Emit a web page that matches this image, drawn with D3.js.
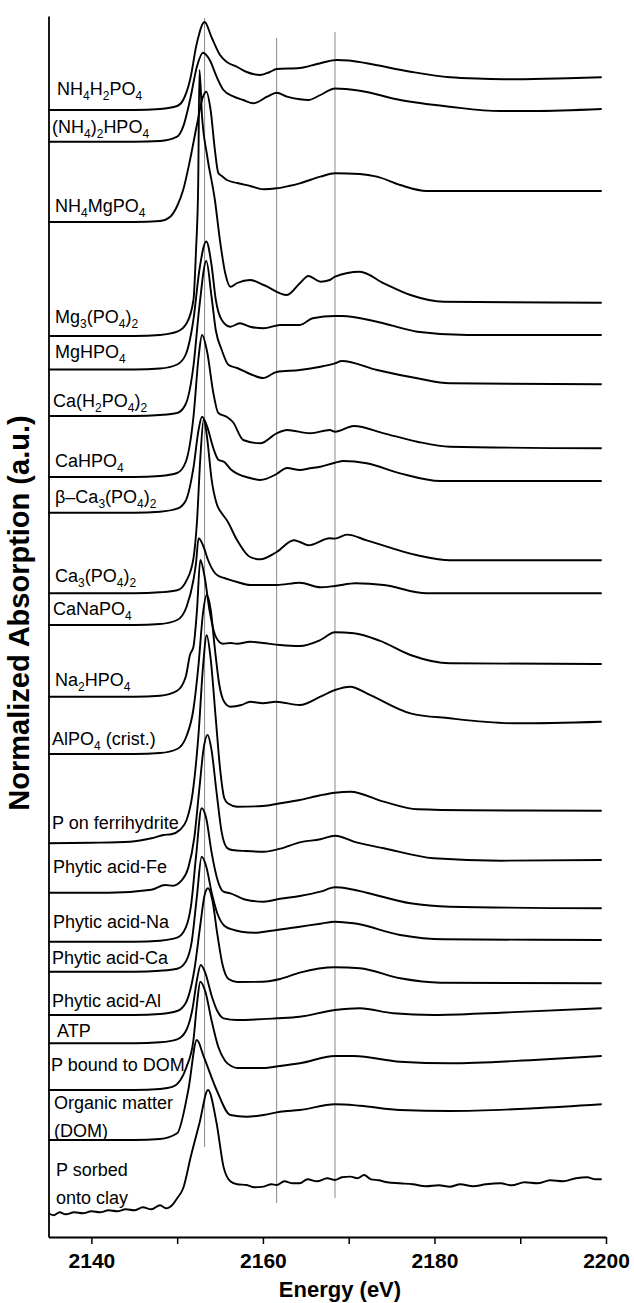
<!DOCTYPE html>
<html><head><meta charset="utf-8">
<script src="https://cdn.jsdelivr.net/npm/d3@7"></script>
<style>body{margin:0;background:#fff}</style>
</head><body><svg id="c" width="634" height="1303" xmlns="http://www.w3.org/2000/svg"></svg>
<script>
const energyDomain=[2135,2200];
const xTicks=[2140,2150,2160,2170,2180,2190,2200];
const xTickLabels=[2140,2160,2180,2200];
const refEnergies=[2153.2,2161.6,2168.4];
const refTop=[121.9,119.9,120.5];
const refBottom=[9.0,3.4,3.9];
const labels=["NH_4H_2PO_4","(NH_4)_2HPO_4","NH_4MgPO_4","Mg_3(PO_4)_2","MgHPO_4","Ca(H_2PO_4)_2","CaHPO_4","β–Ca_3(PO_4)_2","Ca_3(PO_4)_2","CaNaPO_4","Na_2HPO_4","AlPO_4 (crist.)","P on ferrihydrite","Phytic acid-Fe","Phytic acid-Na","Phytic acid-Ca","Phytic acid-Al","ATP","P bound to DOM","Organic matter|(DOM)","P sorbed|onto clay"];
const offsets=[112.7,109.53,101.5,90.1,86.75,82.1,76.0,72.43,64.37,61.2,54.03,48.3,39.37,34.43,29.53,26.53,22.2,19.37,14.7,9.7,2.37];
const s01=[[2135,0],[2145,0],[2148,0.1],[2150,0.4],[2150.7,1.0],[2151.5,3.0],[2152.3,6.7],[2153.2,8.8],[2154,7.3],[2155,5.5],[2155.8,4.8],[2157,4.3],[2158.1,3.8],[2159.7,3.5],[2160.8,3.8],[2161.6,4.1],[2164.3,4.2],[2166.3,4.6],[2168.6,5.0],[2170,4.95],[2172.1,4.67],[2177.2,3.83],[2181.8,3.27],[2185.7,3.13],[2189.6,3.07],[2195.5,3.17],[2199.5,3.27]];
const s02=[[2135,0],[2145,0],[2148,0.07],[2150,0.5],[2150.7,1.5],[2151.5,4.17],[2152.3,7.5],[2153,8.9],[2153.8,8.17],[2154.6,6.5],[2155.4,5.17],[2156.6,4.5],[2157.7,4.17],[2158.9,3.84],[2160.5,4.5],[2161.6,4.9],[2162.8,4.5],[2164.3,4.24],[2165.3,4.17],[2166.7,4.67],[2168.4,5.32],[2171.3,5.1],[2176,4.17],[2181.8,3.5],[2187.7,3.07],[2191.5,3.07],[2199.5,3.27]];
const s03=[[2135,0],[2145,0],[2148,0.1],[2149.2,0.53],[2150,1.6],[2150.7,3.2],[2151.5,6.2],[2152.3,9.7],[2153,12.5],[2153.4,13.03],[2153.9,11.2],[2154.4,7.2],[2154.8,4.9],[2155.2,4.6],[2155.8,4.2],[2157,3.9],[2158.5,3.6],[2160.1,3.27],[2161.6,3.37],[2163,3.6],[2164.3,3.87],[2166.7,4.53],[2168.4,4.87],[2171.3,4.8],[2173.3,4.53],[2176,3.7],[2179.1,3.1],[2199.5,3.1]];
const s04=[[2135,0],[2145,0],[2148,0.1],[2150,0.43],[2151.1,1.27],[2151.9,3.6],[2152.2,8.6],[2152.45,15],[2152.6,26.6],[2152.9,22],[2153.5,18],[2154.4,13.6],[2155.0,9.5],[2155.6,6.3],[2156.2,4.93],[2157,5.3],[2158.5,5.6],[2160.1,5.1],[2162.8,4.1],[2164.3,5.27],[2165.3,6.0],[2166.7,5.43],[2167.8,5.6],[2168.4,5.93],[2171.3,6.43],[2174.1,5.27],[2177.2,4.1],[2181.1,3.43],[2199.5,3.33]];
const s05=[[2135,0],[2145,0],[2148,0.1],[2150,0.5],[2151,1.5],[2151.9,5],[2152.6,10],[2153.4,12.8],[2154,10.5],[2154.5,7],[2155.2,4.95],[2156.2,4.28],[2157.3,4.62],[2158.5,4.28],[2160.1,4.12],[2162,4.45],[2164.3,4.45],[2165.8,5.12],[2168.4,5.35],[2169.2,5.35],[2173.3,4.78],[2178,3.78],[2183.8,3.45],[2199.5,3.45]];
const s06=[[2135,0],[2145,0],[2148,0.1],[2150,0.3],[2151,1.2],[2151.9,5],[2152.6,11],[2153.4,15.5],[2154,12],[2154.5,8.6],[2155.2,6.6],[2156,5.1],[2157,4.8],[2158.5,4.2],[2160,3.8],[2161.6,4.4],[2164.3,4.6],[2166.7,4.93],[2168.4,5.27],[2169.2,5.5],[2173.3,4.6],[2178,3.77],[2181.8,3.27],[2199.5,3.17]];
const s07=[[2135,0],[2145,0],[2148,0.1],[2150,0.4],[2151,1.5],[2151.9,6],[2152.5,12],[2152.9,14.2],[2153.5,12.5],[2154.2,8.5],[2154.8,6.4],[2155.8,6.0],[2156.5,5.5],[2157.7,3.7],[2159.7,3.37],[2161.6,4.37],[2162.8,4.7],[2165.5,4.37],[2167.8,4.7],[2168.4,4.53],[2170.6,5.1],[2174.1,4.37],[2178,3.53],[2181.8,3.03],[2199.5,2.87]];
const s08=[[2135,0],[2145,0],[2148,0.1],[2150,0.4],[2151,1.2],[2151.9,4.5],[2152.5,8.3],[2152.9,9.6],[2153.5,8.6],[2154.2,6.5],[2154.8,5.3],[2155.5,5.07],[2156.3,4.3],[2157,3.9],[2158.5,3.47],[2159.7,3.27],[2161.6,3.87],[2162.8,4.47],[2164.3,4.27],[2165.5,4.44],[2166.7,4.6],[2168.4,5.0],[2169.4,5.17],[2172.1,4.94],[2176,3.94],[2180.7,3.17],[2199.5,3.17]];
const s09=[[2135,0],[2145,0],[2148,0.1],[2150,0.3],[2151.1,1.3],[2151.9,3.5],[2152.3,7],[2152.7,13.5],[2153.1,17.4],[2153.5,15.5],[2154,11.5],[2154.6,8.97],[2155.2,8.0],[2155.8,7.3],[2157,5.3],[2158.5,3.63],[2159.7,3.4],[2161.6,4.13],[2163.6,5.3],[2164.3,5.13],[2165.3,4.8],[2167.8,5.5],[2168.4,5.47],[2169.8,5.87],[2172.1,5.3],[2178,3.8],[2181.8,3.3],[2199.5,3.3]];
const s10=[[2135,0],[2145,0],[2148,0.1],[2150,0.5],[2151.1,1.83],[2151.9,4.5],[2152.2,6.2],[2152.5,8.67],[2153,8],[2153.6,6.5],[2154.4,5.2],[2155,4.83],[2155.5,4.7],[2157,4.3],[2158.5,4.0],[2161.6,4.0],[2164.3,4.23],[2166.7,3.77],[2168.4,3.9],[2170.8,4.17],[2174.1,4.0],[2179.1,3.17],[2199.5,3.17]];
const s11=[[2135,0],[2145,0],[2148,0.1],[2150,0.6],[2151,2],[2151.5,4.2],[2151.9,5.0],[2152.3,8.5],[2152.7,13.67],[2153.2,12],[2153.8,8.5],[2154.5,6.0],[2155.3,5.3],[2156.2,5.37],[2157,5.3],[2158.5,5.5],[2160,5.37],[2162,5.17],[2164.3,5.07],[2166.7,5.67],[2168.4,6.44],[2170.6,6.34],[2173.6,5.6],[2177.2,4.17],[2181.8,3.34],[2199.5,3.27]];
const s12=[[2135,0],[2145,0],[2148,0.1],[2150,0.5],[2151,1.6],[2151.9,4.5],[2152.5,9],[2153,14],[2153.45,15.9],[2153.9,14.5],[2154.4,10.5],[2154.9,7],[2155.5,5.2],[2156.2,4.73],[2157.5,4.9],[2158.5,5.23],[2160,5.07],[2161.5,5.23],[2164.3,4.9],[2166.7,5.73],[2168.4,6.4],[2170.2,6.73],[2172.1,6.07],[2177.2,4.07],[2181.8,3.57],[2189.6,3.07],[2199.5,3.23]];
const s13=[[2135,0],[2140,0.05],[2144.5,0.16],[2147,0.5],[2148.4,0.83],[2149.3,0.9],[2150.3,1.33],[2151.1,2.33],[2151.8,5],[2152.5,11],[2153,17.5],[2153.45,20.8],[2153.9,18.5],[2154.5,12.5],[2155.0,7.5],[2155.5,4.5],[2155.9,4.0],[2157,3.66],[2160,3.73],[2162,4.0],[2164.3,4.33],[2166.7,4.8],[2168.4,5.06],[2170.2,5.16],[2174.1,4.16],[2178,3.4],[2184,3.3],[2199.5,3.26]];
const s14=[[2135,0],[2142,0],[2147,0.3],[2148.6,0.77],[2149.5,0.7],[2150.5,1.2],[2151.3,2.5],[2152,5.5],[2152.6,10.5],[2153.1,14.5],[2153.55,15.77],[2154,14.3],[2154.6,10],[2155.2,6],[2155.8,4.5],[2156.4,4.27],[2158,4.17],[2160.1,4.1],[2162,4.4],[2164.3,5.04],[2166.7,5.34],[2168.4,5.7],[2171,5.0],[2174.1,4.44],[2179.9,3.44],[2187.7,3.2],[2199.5,3.27]];
const s15=[[2135,0],[2145,0],[2148,0.1],[2150,0.4],[2151,1.4],[2151.6,3.5],[2152.2,8.5],[2152.85,13.34],[2153.4,12.3],[2154,9],[2154.7,6.2],[2155.4,5.0],[2156.2,4.84],[2158,4.2],[2160.1,4.0],[2162,4.3],[2164.3,4.57],[2166.7,5.0],[2168.4,5.44],[2170,5.3],[2172.1,4.9],[2177.2,3.84],[2181.8,3.5],[2199.5,3.34]];
const s16=[[2135,0],[2145,0],[2148,0.1],[2150,0.3],[2151,1],[2151.7,3],[2152.3,7.5],[2152.85,11.5],[2153.4,10.5],[2154,8],[2154.7,5.8],[2155.5,4.6],[2156.5,4.2],[2157.5,4.0],[2159,3.9],[2161,4.1],[2164.3,4.5],[2166.7,4.8],[2168.4,5.0],[2170.6,4.84],[2176,3.67],[2181.1,3.24],[2199.5,3.17]];
const s17=[[2135,0],[2145,0],[2148,0.1],[2150,0.4],[2151,1.2],[2152,4.5],[2152.7,9],[2153.2,12],[2153.6,12.67],[2154.1,11.5],[2154.7,8],[2155.3,5],[2156,3.6],[2157,3.3],[2160,3.33],[2162,3.6],[2164.3,4.23],[2168.4,4.77],[2171.3,4.67],[2176,3.67],[2180.7,3.23],[2199.5,3.17]];
const s18=[[2135,0],[2145,0],[2148,0.1],[2150,0.4],[2151,1.2],[2151.8,3.5],[2152.3,6.3],[2152.75,7.83],[2153.3,7.0],[2154,4.8],[2154.7,3.2],[2155.4,2.5],[2157,2.33],[2161.6,2.5],[2164.3,2.66],[2168.4,3.33],[2171.3,3.5],[2175.2,3.0],[2179.9,2.83],[2187.7,3.06],[2199.5,3.5]];
const s19=[[2135,0],[2145,0],[2148,0.1],[2149.5,0.33],[2151.1,2.33],[2151.9,5],[2152.3,8.5],[2152.7,10.83],[2153.3,9.8],[2154,7],[2154.8,4.3],[2155.6,2.9],[2156.3,2.4],[2157,2.2],[2160,2.2],[2162,2.4],[2164.3,2.67],[2168.4,3.4],[2170.6,3.4],[2176,2.83],[2181.8,2.67],[2191.6,3.0],[2199.5,3.4]];
const s20=[[2135,0],[2145,0],[2148,0.1],[2150,0.67],[2151.3,5],[2152.3,10],[2153.1,8.33],[2154.6,5],[2156.2,2.5],[2158.1,2.33],[2160.1,2.5],[2162,2.83],[2164.3,3.0],[2168.4,3.57],[2171.3,3.43],[2176,3.0],[2181.8,2.9],[2191.6,3.17],[2199.5,3.57]];
const s21=[[2135,0],[2135.6,-0.2],[2136.3,0.1],[2137,-0.1],[2138,0.1],[2139,0],[2140,0.2],[2141,0.1],[2142,0.3],[2143,0.2],[2144,0.4],[2145,0.3],[2146,0.6],[2147,0.4],[2148,0.8],[2148.7,0.5],[2149.5,0.9],[2150,1.5],[2150.7,2.5],[2151.6,5.7],[2152.6,9],[2153.6,12.33],[2154.6,9],[2155.4,4.67],[2156.2,3.2],[2157,2.9],[2158.1,2.83],[2159,2.6],[2160.1,2.67],[2161,2.9],[2161.6,2.83],[2162.5,3.2],[2163.5,3.0],[2164.3,3.0],[2165.2,3.4],[2166.3,3.2],[2167.5,3.5],[2168.4,3.33],[2169.2,3.6],[2170.2,3.67],[2171,3.5],[2171.8,3.83],[2172.6,3.4],[2173.5,3.3],[2174.5,3.1],[2176,3.0],[2177.5,2.9],[2179,2.7],[2180.5,2.8],[2181.8,2.66],[2183,2.9],[2184.5,2.7],[2186,2.9],[2187.7,3.0],[2189,2.8],[2190.5,3.1],[2192,3.0],[2193.5,3.3],[2195,3.2],[2196.5,3.5],[2197.8,3.6],[2198.8,3.4],[2199.5,3.4]];
const spectra=[s01,s02,s03,s04,s05,s06,s07,s08,s09,s10,s11,s12,s13,s14,s15,s16,s17,s18,s19,s20,s21];

// layout (pixels)
const labelX=[57,52,55,55,55,53,55,55,55,53,55,52,52,53,53,52,52,57,51,54,56];
const labelY=[95,133,212,323,358,407,467,503,582,615,686,745,829,873,928,964,1007,1037,1071,1109,1176];

const svg=d3.select('#c');
const x=d3.scaleLinear().domain(energyDomain).range([48.5,606]);
const y=d3.scaleLinear().domain([0,122.1]).range([1237,16]);

svg.selectAll('line.ref').data(refEnergies).join('line').attr('class','ref')
  .attr('x1',d=>x(d)).attr('x2',d=>x(d))
  .attr('y1',(d,i)=>y(refTop[i])).attr('y2',(d,i)=>y(refBottom[i]))
  .attr('stroke','#8a8a8a').attr('stroke-width',1);

const line=d3.line().x(d=>x(d[0])).y(d=>y(d[1])).curve(d3.curveMonotoneX);
svg.append('g').selectAll('path').data(spectra).join('path')
  .attr('d',(s,i)=>line(s.map(p=>[p[0],p[1]+offsets[i]])))
  .attr('fill','none').attr('stroke','#000').attr('stroke-width',1.9).attr('stroke-linejoin','round');

const font='"Liberation Sans", Arial, Helvetica, sans-serif';
const gl=svg.append('g').attr('font-family',font).attr('font-size',18).attr('fill','#000');
labels.forEach((lab,i)=>{
  lab.split('|').forEach((ln,j)=>{
    const t=gl.append('text').attr('x',labelX[i]).attr('y',labelY[i]+j*28);
    const parts=ln.split(/(_[0-9])/).filter(s=>s.length);
    let sub=false;
    parts.forEach(p=>{
      if(p[0]==='_'){
        t.append('tspan').attr('font-size',12).attr('dy',5).text(p[1]);
        sub=true;
      } else {
        const ts=t.append('tspan').text(p);
        if(sub){ts.attr('dy',-5);sub=false;}
      }
    });
  });
});

const gx=svg.append('g').attr('transform','translate(0,1237)')
  .call(d3.axisBottom(x).tickValues(xTicks).tickSize(7).tickSizeOuter(0).tickFormat(d=>xTickLabels.includes(d)?d:''));
gx.select('.domain').attr('stroke','#000').attr('stroke-width',1.8);
gx.selectAll('.tick line').attr('stroke','#000').attr('stroke-width',1.5);
gx.selectAll('.tick text').attr('y',31).attr('dy',0).attr('font-family',font).attr('font-weight','bold').attr('font-size',21).attr('fill','#000');

const gy=svg.append('g').attr('transform','translate(48.5,0)')
  .call(d3.axisLeft(y).tickValues([]).tickSizeOuter(0));
gy.select('.domain').attr('stroke','#000').attr('stroke-width',1.8);

svg.append('text').attr('x',340).attr('y',1297).attr('text-anchor','middle')
  .attr('font-family',font).attr('font-weight','bold').attr('font-size',22).text('Energy (eV)');
svg.append('text').attr('transform','translate(29,613) rotate(-90)').attr('text-anchor','middle')
  .attr('font-family',font).attr('font-weight','bold').attr('font-size',29).text('Normalized Absorption (a.u.)');
</script></body></html>
